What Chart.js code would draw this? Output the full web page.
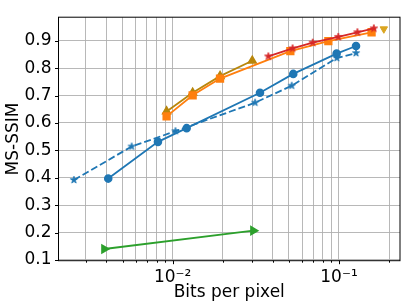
<!DOCTYPE html>
<html>
<head>
<meta charset="utf-8">
<script src="https://cdn.jsdelivr.net/npm/chart.js@4"></script>
<style>
html,body{margin:0;padding:0;background:#fff;}
#wrap{width:407px;height:308px;position:relative;}
</style>
</head>
<body>
<div id="wrap"><canvas id="c" width="407" height="308"></canvas></div>
<script>
// ---- data ----
const blueDashX = [0.00255, 0.00567, 0.0104, 0.0313, 0.052, 0.097, 0.1266];
const blueDashY = [0.392, 0.514, 0.570, 0.674, 0.736, 0.837, 0.855];
const blueX = [0.0041, 0.00816, 0.01214, 0.0335, 0.0531, 0.0968, 0.1266];
const blueY = [0.397, 0.531, 0.581, 0.710, 0.779, 0.853, 0.881];
const goldX = [0.0092, 0.01319, 0.01927, 0.0301];
const goldY = [0.642, 0.710, 0.771, 0.827];
const orangeX = [0.0092, 0.01319, 0.01927, 0.051, 0.0863, 0.157];
const orangeY = [0.624, 0.701, 0.762, 0.862, 0.899, 0.931];
const redX = [0.0376, 0.0526, 0.0695, 0.099, 0.129, 0.162];
const redY = [0.843, 0.872, 0.893, 0.914, 0.931, 0.945];
const greenX = [0.00388, 0.0305];
const greenY = [0.140, 0.207];
const downX = [0.186];
const downY = [0.943];

const xTickValues = [0.003,0.004,0.005,0.006,0.007,0.008,0.009,0.01,0.02,0.03,0.04,0.05,0.06,0.07,0.08,0.09,0.1,0.2];
const xMajor = [0.01, 0.1];
const xMajorLabels = ['10\u207B\u00B2', '10\u207B\u00B9'];
const yTickValues = [0.1,0.2,0.3,0.4,0.5,0.6,0.7,0.8,0.9];

function pts(xs, ys){ return xs.map((x,i)=>({x:x, y:ys[i]})); }

function starImg(color, r){
  const s = Math.ceil(r*2+2);
  const cv = document.createElement('canvas');
  cv.width = s; cv.height = s;
  const g = cv.getContext('2d');
  const cx = s/2, cy = s/2, ri = r*0.4;
  g.beginPath();
  for(let i=0;i<10;i++){
    const rr = i%2===0 ? r : ri;
    const a = -Math.PI/2 + i*Math.PI/5;
    const px = cx + rr*Math.cos(a), py = cy + rr*Math.sin(a);
    if(i===0) g.moveTo(px,py); else g.lineTo(px,py);
  }
  g.closePath();
  g.fillStyle = color; g.fill();
  g.strokeStyle = color; g.lineWidth = 0.8; g.stroke();
  return cv;
}

const C0='#1f77b4', C1='#ff7f0e', C2='#2ca02c', C3='#d62728', GOLD='#b8860b', GOLD2='#daa520';

const framePlugin = {
  id:'frame',
  afterDraw(chart){
    const {ctx, chartArea:a, scales} = chart;
    ctx.save();
    ctx.strokeStyle = '#000'; ctx.lineWidth = 1;
    ctx.strokeRect(a.left, a.top, a.right-a.left, a.bottom-a.top);
    ctx.beginPath();
    xTickValues.forEach(v=>{
      const px = Math.round(scales.x.getPixelForValue(v))+0.5;
      const len = xMajor.includes(v) ? 3.5 : 2;
      ctx.moveTo(px, a.bottom); ctx.lineTo(px, a.bottom+len);
    });
    yTickValues.forEach(v=>{
      const py = Math.round(scales.y.getPixelForValue(v))+0.5;
      ctx.moveTo(a.left, py); ctx.lineTo(a.left-3.5, py);
    });
    ctx.stroke();
    ctx.restore();
  }
};

const FONT = {family:'DejaVu Sans', size:17};

new Chart(document.getElementById('c'), {
  type:'line',
  data:{
    datasets:[
      {data:pts(downX,downY), showLine:false, borderColor:GOLD2, backgroundColor:GOLD2, pointStyle:'triangle', rotation:180, pointRadius:4.3, order:1},
      {data:pts(greenX,greenY), borderColor:C2, backgroundColor:C2, borderWidth:1.8, pointStyle:'triangle', rotation:90, pointRadius:4.3, order:2},
      {data:pts(redX,redY), borderColor:C3, backgroundColor:C3, borderWidth:1.8, pointStyle:starImg(C3,4), order:3},
      {data:pts(blueX,blueY), borderColor:C0, backgroundColor:C0, borderWidth:1.8, pointStyle:'circle', pointRadius:3.4, order:4},
      {data:pts(blueDashX,blueDashY), borderColor:C0, backgroundColor:C0, borderWidth:1.8, borderDash:[7,3], pointStyle:starImg(C0,3.8), order:5},
      {data:pts(orangeX,orangeY), borderColor:C1, backgroundColor:C1, borderWidth:1.8, pointStyle:'rect', pointRadius:4.6, order:6},
      {data:pts(goldX,goldY), borderColor:GOLD, backgroundColor:GOLD, borderWidth:1.8, pointStyle:'triangle', pointRadius:4.3, order:7}
    ]
  },
  options:{
    responsive:false,
    animation:false,
    layout:{padding:{top:6.7, right:7, left:0, bottom:0}},
    plugins:{legend:{display:false}, tooltip:{enabled:false}},
    elements:{line:{tension:0, fill:false}, point:{borderWidth:1}},
    scales:{
      x:{
        type:'logarithmic',
        min:0.00206, max:0.2327,
        afterBuildTicks(s){ s.ticks = xTickValues.map(v=>({value:v})); },
        afterFit(s){ s.height = 47.3; },
        ticks:{
          autoSkip:false, maxRotation:0, padding:7, color:'#000', font:FONT,
          callback(v){ const i = xMajor.indexOf(v); return i>=0 ? xMajorLabels[i] : ''; }
        },
        grid:{color:'#b0b0b0', lineWidth:0.9, drawTicks:false},
        border:{display:false},
        title:{display:true, text:'Bits per pixel', color:'#000', font:FONT, padding:{top:0, bottom:5}}
      },
      y:{
        type:'linear',
        min:0.0973, max:0.986,
        afterBuildTicks(s){ s.ticks = yTickValues.map(v=>({value:v})); },
        afterFit(s){ s.width = 58.5; },
        ticks:{
          padding:7, color:'#000', font:FONT,
          callback(v){ return Number(v).toFixed(1); }
        },
        grid:{color:'#b0b0b0', lineWidth:0.9, drawTicks:false},
        border:{display:false},
        title:{display:true, text:'MS-SSIM', color:'#000', font:FONT, padding:{top:3, bottom:0}}
      }
    }
  },
  plugins:[framePlugin]
});
</script>
</body>
</html>
